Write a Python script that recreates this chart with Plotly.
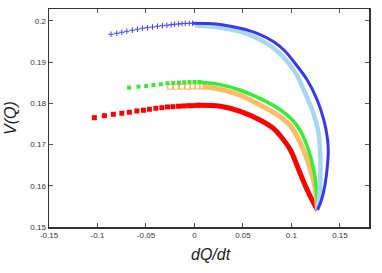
import plotly.graph_objects as go

# ---- data (dQ/dt, V(Q)) ----
# red series (filled squares): sparse start, dense remainder
red_sparse_x = [-0.1032, -0.0929, -0.0836, -0.0749, -0.0671, -0.0594, -0.0526, -0.0464, -0.0398,
                -0.0336, -0.0278, -0.0222, -0.0164, -0.0113, -0.0061, -0.0016, 0.0032]
red_sparse_y = [0.17653, 0.17701, 0.17735, 0.17760, 0.17784, 0.17816, 0.17833, 0.17857, 0.17881,
                0.17896, 0.17913, 0.17920, 0.17930, 0.17937, 0.17944, 0.17944, 0.17954]
red_dense_x = [0.0032, 0.0267, 0.0473, 0.0680, 0.0817, 0.0887, 0.0990, 0.1076, 0.1163, 0.1231, 0.1269]
red_dense_y = [0.17954, 0.17930, 0.17808, 0.17590, 0.17386, 0.17209, 0.16869, 0.16383, 0.15898, 0.15575, 0.15413]

# orange series (open squares)
orange_sparse_x = [-0.0250, -0.0191, -0.0129, -0.0071, -0.0016, 0.0032, 0.0081]
orange_sparse_y = [0.18405, 0.18405, 0.18405, 0.18405, 0.18410, 0.18410, 0.18410]
orange_dense_x = [0.0081, 0.0267, 0.0473, 0.0680, 0.0887, 0.1000, 0.1124, 0.1197, 0.1248, 0.1269]
orange_dense_y = [0.18410, 0.18342, 0.18197, 0.17954, 0.17670, 0.17427, 0.16869, 0.16383, 0.15898, 0.15413]

# green series
green_sparse_x = [-0.0674, -0.0578, -0.0498, -0.0423, -0.0346, -0.0278, -0.0219, -0.0160, -0.0105,
                  -0.0051, 0.0001, 0.0050]
green_sparse_y = [0.18381, 0.18405, 0.18422, 0.18447, 0.18464, 0.18488, 0.18495, 0.18502, 0.18512,
                  0.18519, 0.18519, 0.18519]
green_dense_x = [0.0050, 0.0267, 0.0473, 0.0680, 0.0887, 0.1000, 0.1093, 0.1176, 0.1231, 0.1259, 0.1267, 0.1269]
green_dense_y = [0.18519, 0.18454, 0.18318, 0.18114, 0.17840, 0.17621, 0.17330, 0.16869, 0.16383, 0.15898, 0.15655, 0.15413]

# light blue series (x marks)
lblue_dense_x = [0.0008, 0.0215, 0.0473, 0.0646, 0.0817, 0.1024, 0.1127, 0.1214, 0.1274, 0.1295, 0.1300, 0.1293, 0.1269]
lblue_dense_y = [0.19891, 0.19854, 0.19740, 0.19580, 0.19337, 0.18811, 0.18325, 0.17840, 0.17354, 0.16869, 0.16383, 0.15898, 0.15413]

# blue series (plus marks)
blue_sparse_x = [-0.0860, -0.0801, -0.0749, -0.0698, -0.0640, -0.0588, -0.0536, -0.0485, -0.0433,
                 -0.0381, -0.0330, -0.0284, -0.0240, -0.0206, -0.0164, -0.0129, -0.0095, -0.0054, -0.0020]
blue_sparse_y = [0.19677, 0.19701, 0.19726, 0.19750, 0.19774, 0.19799, 0.19823, 0.19837, 0.19854,
                 0.19871, 0.19886, 0.19896, 0.19910, 0.19920, 0.19927, 0.19934, 0.19939, 0.19944, 0.19944]
blue_dense_x = [-0.0020, 0.0143, 0.0298, 0.0473, 0.0646, 0.0817, 0.0928, 0.1024, 0.1163, 0.1266, 0.1334,
                0.1369, 0.1380, 0.1372, 0.1346, 0.1310, 0.1269]
blue_dense_y = [0.19944, 0.19937, 0.19903, 0.19823, 0.19701, 0.19498, 0.19284, 0.19012, 0.18568, 0.18083,
                0.17597, 0.17184, 0.16869, 0.16505, 0.16019, 0.15655, 0.15413]

x_tickvals = [-0.15, -0.1, -0.05, 0, 0.05, 0.1, 0.15]
x_ticktext = ["-0.15", "-0.1", "-0.05", "0", "0.05", "0.1", "0.15"]
y_tickvals = [0.15, 0.16, 0.17, 0.18, 0.19, 0.2]
y_ticktext = ["0.15", "0.16", "0.17", "0.18", "0.19", "0.2"]

fig = go.Figure()

def add_series(sx, sy, dx, dy, color, symbol, msize, lwidth, mline=0, lcolor=None):
    if dx:
        fig.add_trace(go.Scatter(x=dx, y=dy, mode="lines",
                                 line=dict(color=lcolor or color, width=lwidth, shape="spline"),
                                 hoverinfo="skip"))
    if sx:
        fig.add_trace(go.Scatter(x=sx, y=sy, mode="markers",
                                 marker=dict(symbol=symbol, size=msize, color=color,
                                             line=dict(width=mline, color=color)),
                                 hoverinfo="skip"))

add_series(red_sparse_x, red_sparse_y, red_dense_x, red_dense_y, "#ff0000", "square", 5, 5)
add_series(orange_sparse_x, orange_sparse_y, orange_dense_x, orange_dense_y, "#ffb048", "square-open", 5, 5, 1, "#ffbb66")
add_series(green_sparse_x, green_sparse_y, green_dense_x, green_dense_y, "#33ee33", "square", 4, 3.5)
add_series([], [], lblue_dense_x, lblue_dense_y, "#a8d8f0", "x-thin", 5, 4.5)
add_series(blue_sparse_x, blue_sparse_y, blue_dense_x, blue_dense_y, "#4444ff", "cross-thin", 4, 3, 1, "#3838f0")

axis_common = dict(showline=True, linecolor="#333333", linewidth=1.5, mirror="allticks",
                   ticks="inside", ticklen=4, tickcolor="#555555", tickwidth=1,
                   showgrid=False, zeroline=False, automargin=False,
                   tickfont=dict(family="Liberation Sans, Arial, sans-serif", size=8, color="#333333"))

fig.update_layout(
    width=382, height=273,
    margin=dict(l=49, r=13, t=9, b=46),
    paper_bgcolor="white", plot_bgcolor="white",
    showlegend=False,
    xaxis=dict(range=[-0.15, 0.18], tickvals=x_tickvals, ticktext=x_ticktext, **axis_common),
    yaxis=dict(range=[0.15, 0.2029], tickvals=y_tickvals, ticktext=y_ticktext, **axis_common),
    annotations=[
        dict(text="<i>dQ/dt</i>", xref="paper", yref="paper", x=0.507, y=-0.124,
             xanchor="center", yanchor="middle", showarrow=False,
             font=dict(family="Liberation Sans, Arial, sans-serif", size=16, color="#222222")),
        dict(text="<i>V(Q)</i>", xref="paper", yref="paper", x=-0.122, y=0.5,
             xanchor="center", yanchor="middle", showarrow=False, textangle=-90,
             font=dict(family="Liberation Sans, Arial, sans-serif", size=16, color="#222222")),
    ],
)

# remove the default page margin so the figure sits at the window's top-left corner
fig.write_html("out.html",
               config={"displayModeBar": False, "staticPlot": True},
               post_script="document.body.style.margin='0px';document.body.style.overflow='hidden';")
